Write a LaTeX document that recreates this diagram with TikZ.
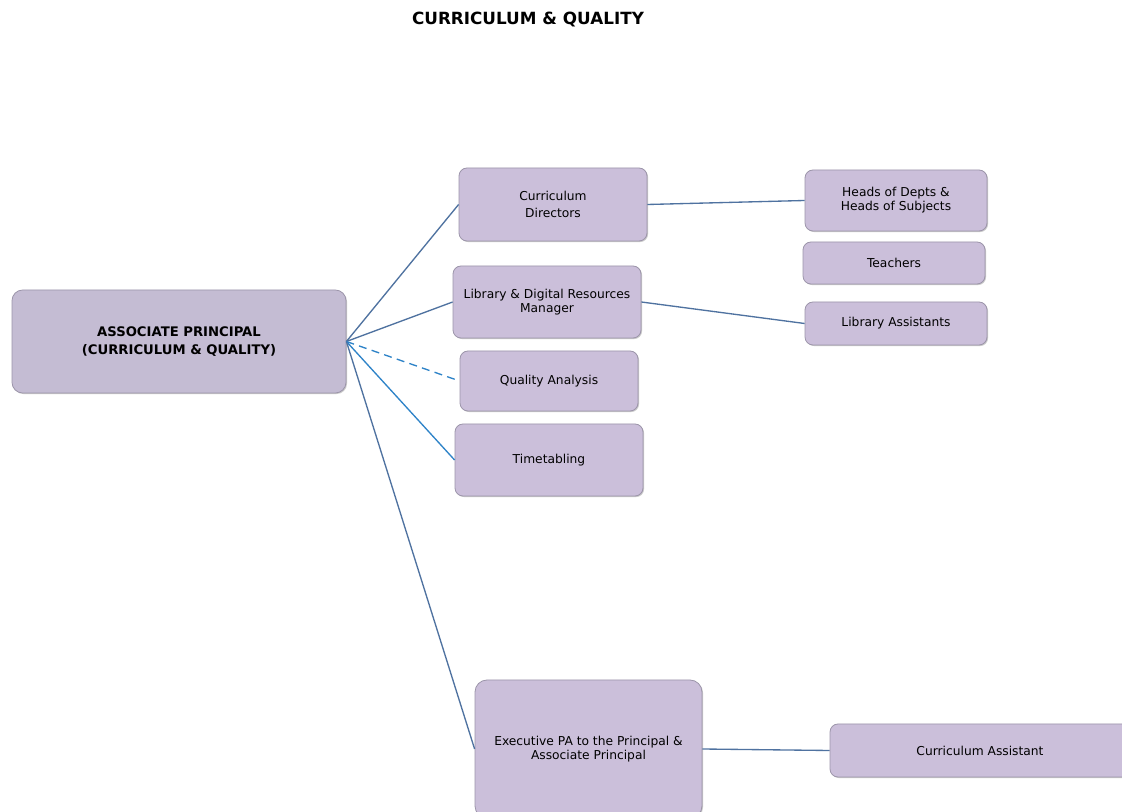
\documentclass[tikz,border=0pt]{standalone}
\usepackage{fontspec}
\setmainfont{DejaVu Sans}
\usetikzlibrary{shadows}
\definecolor{mainfill}{HTML}{C4BCD3}
\definecolor{boxfill}{HTML}{CBBFDA}
\definecolor{boxline}{HTML}{9C95AA}
\definecolor{connA}{HTML}{4F72A0}
\definecolor{connB}{HTML}{2E83C8}
\begin{document}
\begin{tikzpicture}[x=0.75pt,y=-0.75pt,
  bx/.style 2 args={minimum width=#1*0.75pt, minimum height=#2*0.75pt},
  orgbox/.style={draw=boxline, line width=0.6pt, fill=boxfill, rounded corners=6pt,
    align=center, inner sep=1pt, font=\fontsize{9.2}{10.5}\selectfont,
    drop shadow={shadow xshift=0.8pt, shadow yshift=-0.8pt, fill=black!35, opacity=0.6}},
  conn/.style={draw=connA, line width=1pt},
  connlight/.style={draw=connB, line width=1pt}]
\useasboundingbox (0,0) rectangle (1122,812);
\clip (0,0) rectangle (1122,812);
\fill[white] (0,0) rectangle (1122,812);
\node[font=\bfseries\fontsize{12.6}{14}\selectfont] (title) at (528,19) {CURRICULUM \& QUALITY};
\node[orgbox, fill=mainfill, rounded corners=8pt, bx={334}{103}, font=\bfseries\fontsize{9.9}{13.5}\selectfont] (main) at (179,341.5) {ASSOCIATE PRINCIPAL\\(CURRICULUM \& QUALITY)};
\node[orgbox, bx={188}{73}] (cd) at (553,204.5) {Curriculum\\[2pt]Directors};
\node[orgbox, bx={188}{72}] (lib) at (547,302) {Library \& Digital Resources\\Manager};
\node[orgbox, bx={178}{60}] (qa) at (549,381) {Quality Analysis};
\node[orgbox, bx={188}{72}] (tt) at (549,460) {Timetabling};
\node[orgbox, bx={182}{61}] (hd) at (896,200.5) {Heads of Depts \&\\Heads of Subjects};
\node[orgbox, bx={182}{42}] (te) at (894,263) {Teachers};
\node[orgbox, bx={182}{43}] (la) at (896,323.5) {Library Assistants};
\node[orgbox, rounded corners=9pt, bx={227}{138}] (ex) at (588.5,749) {Executive PA to the Principal \&\\Associate Principal};
\node[orgbox, bx={300}{53}] (ca) at (980,750.5) {Curriculum Assistant};
\draw[conn] (main.east) -- (cd.west);
\draw[conn] (main.east) -- (lib.west);
\draw[connlight, dashed, dash pattern=on 6pt off 4pt] (main.east) -- (qa.west);
\draw[connlight] (main.east) -- (tt.west);
\draw[conn] (main.east) -- (ex.west);
\draw[conn] (cd.east) -- (hd.west);
\draw[conn] (lib.east) -- (la.west);
\draw[conn] (ex.east) -- (ca.west);
\end{tikzpicture}
\end{document}
